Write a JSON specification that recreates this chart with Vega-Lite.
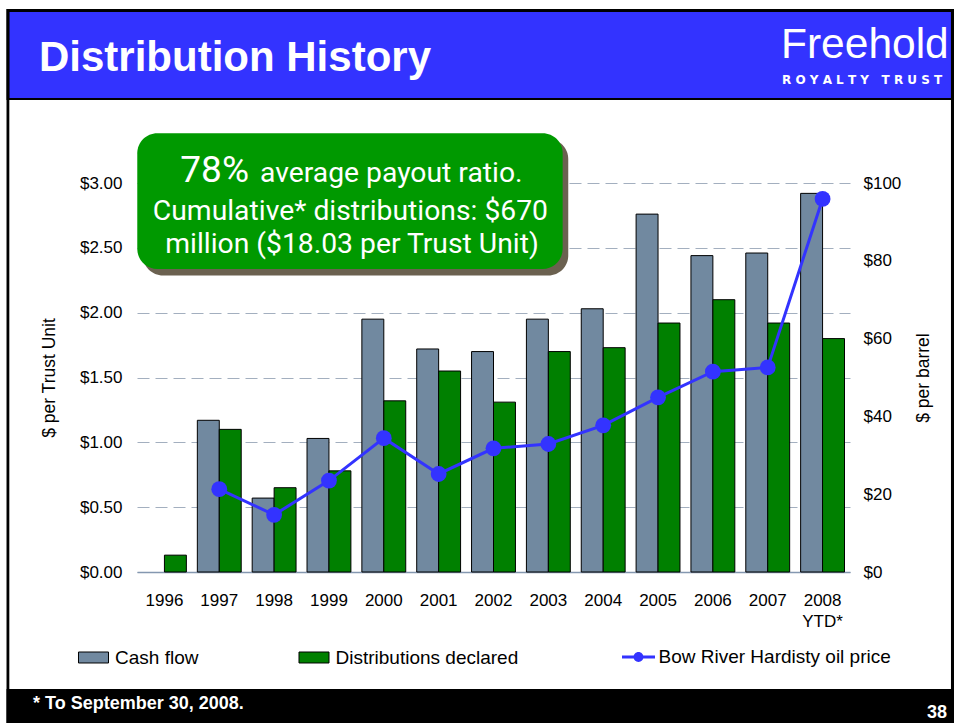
{
  "$schema": "https://vega.github.io/schema/vega-lite/v6.json",
  "autosize": {"type": "none"},
  "width": 713,
  "height": 389,
  "padding": {"left": 137, "top": 183, "right": 104, "bottom": 151},
  "background": "#ffffff",
  "config": {"view": {"stroke": null}, "font": "Liberation Sans"},
  "datasets": {
    "bars": [
      {"year": "1996", "series": "Distributions declared", "value": 0.13},
      {"year": "1997", "series": "Cash flow", "value": 1.17},
      {"year": "1997", "series": "Distributions declared", "value": 1.10},
      {"year": "1998", "series": "Cash flow", "value": 0.57},
      {"year": "1998", "series": "Distributions declared", "value": 0.65},
      {"year": "1999", "series": "Cash flow", "value": 1.03},
      {"year": "1999", "series": "Distributions declared", "value": 0.78},
      {"year": "2000", "series": "Cash flow", "value": 1.95},
      {"year": "2000", "series": "Distributions declared", "value": 1.32},
      {"year": "2001", "series": "Cash flow", "value": 1.72},
      {"year": "2001", "series": "Distributions declared", "value": 1.55},
      {"year": "2002", "series": "Cash flow", "value": 1.70},
      {"year": "2002", "series": "Distributions declared", "value": 1.31},
      {"year": "2003", "series": "Cash flow", "value": 1.95},
      {"year": "2003", "series": "Distributions declared", "value": 1.70},
      {"year": "2004", "series": "Cash flow", "value": 2.03},
      {"year": "2004", "series": "Distributions declared", "value": 1.73},
      {"year": "2005", "series": "Cash flow", "value": 2.76},
      {"year": "2005", "series": "Distributions declared", "value": 1.92},
      {"year": "2006", "series": "Cash flow", "value": 2.44},
      {"year": "2006", "series": "Distributions declared", "value": 2.10},
      {"year": "2007", "series": "Cash flow", "value": 2.46},
      {"year": "2007", "series": "Distributions declared", "value": 1.92},
      {"year": "2008", "series": "Cash flow", "value": 2.92},
      {"year": "2008", "series": "Distributions declared", "value": 1.80}
    ],
    "oil": [
      {"year": "1997", "series": "Bow River Hardisty oil price", "price": 21.3},
      {"year": "1998", "series": "Bow River Hardisty oil price", "price": 14.7},
      {"year": "1999", "series": "Bow River Hardisty oil price", "price": 23.5},
      {"year": "2000", "series": "Bow River Hardisty oil price", "price": 34.4},
      {"year": "2001", "series": "Bow River Hardisty oil price", "price": 25.2},
      {"year": "2002", "series": "Bow River Hardisty oil price", "price": 31.8},
      {"year": "2003", "series": "Bow River Hardisty oil price", "price": 32.9},
      {"year": "2004", "series": "Bow River Hardisty oil price", "price": 37.7},
      {"year": "2005", "series": "Bow River Hardisty oil price", "price": 44.9},
      {"year": "2006", "series": "Bow River Hardisty oil price", "price": 51.5},
      {"year": "2007", "series": "Bow River Hardisty oil price", "price": 52.6},
      {"year": "2008", "series": "Bow River Hardisty oil price", "price": 95.9}
    ]
  },
  "layer": [
    {
      "data": {"values": [{}]},
      "layer": [
        {"mark": {"type": "rect", "color": "#000000"},
         "encoding": {
           "x": {"datum": 1993.121, "type": "quantitative", "scale": {"domain": [1995.5, 2008.5], "nice": false, "zero": false}, "axis": null},
           "x2": {"datum": 2011},
           "y": {"datum": 4.342, "type": "quantitative", "scale": {"domain": [0, 3], "nice": false, "zero": false}, "axis": null},
           "y2": {"datum": 3.640}}},
        {"mark": {"type": "rect", "color": "#3333FF"},
         "encoding": {"x": {"datum": 1993.172, "type": "quantitative"}, "x2": {"datum": 2010.341}, "y": {"datum": 4.3187, "type": "quantitative"}, "y2": {"datum": 3.6555}}},
        {"mark": {"type": "rect", "color": "#000000"},
         "encoding": {"x": {"datum": 1993.121, "type": "quantitative"}, "x2": {"datum": 1993.172}, "y": {"datum": 4.342, "type": "quantitative"}, "y2": {"datum": -1.4}}},
        {"mark": {"type": "rect", "color": "#000000"},
         "encoding": {"x": {"datum": 2010.341, "type": "quantitative"}, "x2": {"datum": 2011}, "y": {"datum": 4.342, "type": "quantitative"}, "y2": {"datum": -1.4}}},
        {"mark": {"type": "rect", "color": "#000000"},
         "encoding": {"x": {"datum": 1993.121, "type": "quantitative"}, "x2": {"datum": 2011}, "y": {"datum": -0.9023, "type": "quantitative"}, "y2": {"datum": -1.4}}},
        {"mark": {"type": "rect", "color": "#6B6150", "cornerRadius": 20},
         "encoding": {"x": {"datum": 1995.609, "type": "quantitative"}, "x2": {"datum": 2003.363}, "y": {"datum": 3.339, "type": "quantitative"}, "y2": {"datum": 2.287}}},
        {"mark": {"type": "rect", "color": "#009900", "cornerRadius": 20},
         "encoding": {"x": {"datum": 1995.505, "type": "quantitative"}, "x2": {"datum": 2003.261}, "y": {"datum": 3.383, "type": "quantitative"}, "y2": {"datum": 2.337}}},
        {"mark": {"type": "text", "color": "#ffffff", "font": "Liberation Sans", "fontWeight": "bold", "fontSize": 42, "align": "left", "baseline": "alphabetic"},
         "encoding": {"x": {"datum": 1993.713, "type": "quantitative"}, "y": {"datum": 3.8637, "type": "quantitative"}, "text": {"value": "Distribution History"}}},
        {"mark": {"type": "text", "color": "#ffffff", "font": "Liberation Sans", "fontSize": 42.5, "align": "left", "baseline": "alphabetic"},
         "encoding": {"x": {"datum": 2007.242, "type": "quantitative"}, "y": {"datum": 3.9617, "type": "quantitative"}, "text": {"value": "Freehold"}}},
        {"mark": {"type": "text", "color": "#ffffff", "font": "DejaVu Sans", "fontWeight": "bold", "fontSize": 12, "align": "left", "baseline": "alphabetic"},
         "encoding": {"x": {"datum": 2007.26, "type": "quantitative"}, "y": {"datum": 3.7635, "type": "quantitative"}, "text": {"value": "R O Y A L T Y \u00a0 T R U S T"}}},
        {"mark": {"type": "text", "color": "#ffffff", "font": "Roboto", "fontSize": 37, "align": "right", "baseline": "alphabetic"},
         "encoding": {"x": {"datum": 1997.542, "type": "quantitative"}, "y": {"datum": 3.0077, "type": "quantitative"}, "text": {"value": "78%"}}},
        {"mark": {"type": "text", "color": "#ffffff", "font": "Roboto", "fontSize": 28.3, "align": "left", "baseline": "alphabetic"},
         "encoding": {"x": {"datum": 1997.743, "type": "quantitative"}, "y": {"datum": 3.0077, "type": "quantitative"}, "text": {"value": "average payout ratio."}}},
        {"mark": {"type": "text", "color": "#ffffff", "font": "Roboto", "fontSize": 28.3, "align": "center", "baseline": "alphabetic"},
         "encoding": {"x": {"datum": 1999.391, "type": "quantitative"}, "y": {"datum": 2.7185, "type": "quantitative"}, "text": {"value": "Cumulative* distributions: $670"}}},
        {"mark": {"type": "text", "color": "#ffffff", "font": "Roboto", "fontSize": 28.3, "align": "center", "baseline": "alphabetic"},
         "encoding": {"x": {"datum": 1999.42, "type": "quantitative"}, "y": {"datum": 2.46, "type": "quantitative"}, "text": {"value": "million ($18.03 per Trust Unit)"}}},
        {"mark": {"type": "text", "color": "#ffffff", "font": "Liberation Sans", "fontWeight": "bold", "fontSize": 18, "align": "left", "baseline": "alphabetic"},
         "encoding": {"x": {"datum": 1993.604, "type": "quantitative"}, "y": {"datum": -1.0604, "type": "quantitative"}, "text": {"value": "* To September 30, 2008."}}},
        {"mark": {"type": "text", "color": "#ffffff", "font": "Liberation Sans", "fontWeight": "bold", "fontSize": 18, "align": "right", "baseline": "alphabetic"},
         "encoding": {"x": {"datum": 2010.269, "type": "quantitative"}, "y": {"datum": -1.126, "type": "quantitative"}, "text": {"value": "38"}}}
      ]
    },
    {
      "layer": [
        {
          "data": {"name": "bars"},
          "mark": {"type": "bar", "stroke": "#000000", "strokeWidth": 1},
          "encoding": {
            "x": {"field": "year", "type": "nominal",
                  "scale": {"domain": ["1996","1997","1998","1999","2000","2001","2002","2003","2004","2005","2006","2007","2008"], "paddingInner": 0.2, "paddingOuter": 0.1},
                  "axis": {"orient": "bottom", "title": null, "labelAngle": 0, "labelFontSize": 17, "labelFont": "Liberation Sans", "labelColor": "#000000", "ticks": false, "grid": false, "domainColor": "#8497B0", "domainWidth": 1.5, "labelPadding": 20, "labelLineHeight": 21, "labelExpr": "datum.value == '2008' ? ['2008', 'YTD*'] : datum.value"}},
            "xOffset": {"field": "series", "type": "nominal", "scale": {"domain": ["Cash flow", "Distributions declared"], "paddingInner": 0, "paddingOuter": 0}},
            "y": {"field": "value", "type": "quantitative",
                  "scale": {"domain": [0, 3], "nice": false},
                  "axis": {"orient": "left", "title": "$ per Trust Unit", "values": [0, 0.5, 1, 1.5, 2, 2.5, 3], "format": "$.2f", "grid": true, "gridDash": [12, 6], "gridColor": "#A3AFBF", "gridWidth": 1.2, "ticks": false, "domain": false, "labelPadding": 15, "labelFontSize": 17, "labelFont": "Liberation Sans", "labelColor": "#000000", "titleFontSize": 17.5, "titleFont": "Liberation Sans", "titleFontWeight": "normal", "titleColor": "#000000", "titlePadding": 21}},
            "color": {"field": "series", "type": "nominal",
                      "scale": {"domain": ["Cash flow", "Distributions declared"], "range": ["#7189A0", "#008000"]},
                      "legend": {"orient": "none", "legendX": -60.5, "legendY": 457.5, "direction": "horizontal", "title": null, "columnPadding": 97.5, "labelOffset": 4.5, "symbolSize": 1089, "symbolType": "M-0.91,-0.333H0.91V0.333H-0.91Z", "symbolStrokeColor": "#000000", "symbolStrokeWidth": 1, "labelFontSize": 19, "labelFont": "Liberation Sans", "labelColor": "#000000", "labelLimit": 400, "padding": 0,
                        "encode": {"symbols": {"update": {
                          "fill": {"signal": "datum.value === 'Cash flow' ? '#7189A0' : '#008000'"},
                          "stroke": {"value": "#000000"},
                          "strokeWidth": {"value": 1},
                          "opacity": {"value": 1},
                          "fillOpacity": {"value": 1}
                        }}}}}
          }
        },
        {
          "data": {"name": "oil"},
          "encoding": {
            "x": {"field": "year", "type": "nominal"},
            "y": {"field": "price", "type": "quantitative",
                  "scale": {"domain": [0, 100], "nice": false},
                  "axis": {"orient": "right", "title": "$ per barrel", "values": [0, 20, 40, 60, 80, 100], "format": "$.0f", "grid": false, "ticks": false, "domain": false, "labelPadding": 13, "labelFontSize": 17, "labelFont": "Liberation Sans", "labelColor": "#000000", "titleFontSize": 17.5, "titleFont": "Liberation Sans", "titleFontWeight": "normal", "titleColor": "#000000", "titleAngle": 270, "titlePadding": 32}}
          },
          "layer": [
            {
              "mark": {"type": "line", "strokeWidth": 3},
              "encoding": {
                "stroke": {"field": "series", "type": "nominal",
                           "scale": {"domain": ["Bow River Hardisty oil price"], "range": ["#3333FF"]},
                           "legend": {"orient": "none", "legendX": 485, "legendY": 457.5, "title": null, "labelOffset": 3.5, "symbolSize": 1089, "symbolType": "M-1,-0.09H-0.28V0.09H-1Z M0.28,-0.09H1V0.09H0.28Z M0.3,0A0.3,0.3,0,1,1,-0.3,0A0.3,0.3,0,1,1,0.3,0Z", "labelFontSize": 19, "labelFont": "Liberation Sans", "labelColor": "#000000", "labelLimit": 400, "padding": 0,
                             "encode": {"symbols": {"update": {
                               "fill": {"value": "#3333FF"},
                               "stroke": {"value": "transparent"},
                               "strokeWidth": {"value": 0},
                               "opacity": {"value": 1},
                               "fillOpacity": {"value": 1}
                             }}}}}
              }
            },
            {
              "mark": {"type": "point", "filled": true, "color": "#3333FF", "size": 250, "opacity": 1}
            }
          ]
        }
      ],
      "resolve": {"scale": {"y": "independent"}}
    }
  ],
  "resolve": {"scale": {"x": "independent", "y": "independent"}}
}
